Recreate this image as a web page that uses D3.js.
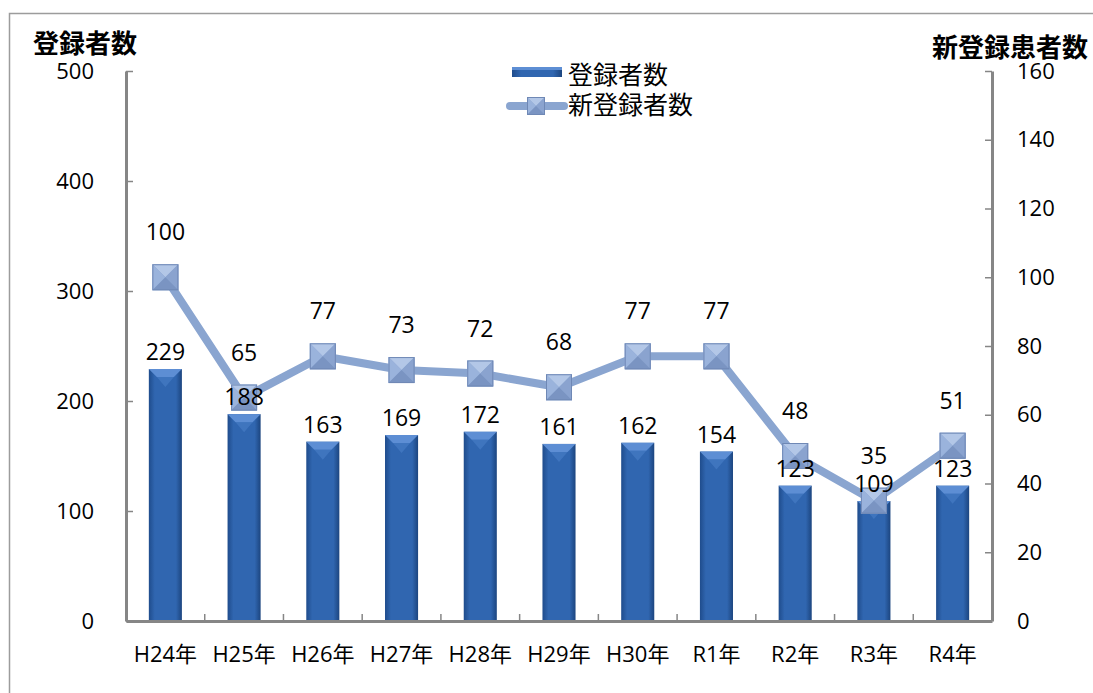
<!DOCTYPE html>
<html lang="ja">
<head>
<meta charset="utf-8">
<title>登録者数・新登録者数</title>
<script src="https://cdn.jsdelivr.net/npm/d3@7"></script>
<style>
  body { margin: 0; background: #fff; overflow: hidden; }
  svg text { font-family: "Open Sans", "Noto Sans CJK JP", sans-serif; fill: #000; }
  .title { font-family: "Noto Sans CJK JP", sans-serif; font-weight: bold; font-size: 26px; }
  .axis path, .axis line { stroke: #868686; }
  .axis text { font-size: 22px; }
</style>
</head>
<body>
<div id="chart"></div>
<script>
// データ
var years = ["H24年", "H25年", "H26年", "H27年", "H28年", "H29年", "H30年", "R1年", "R2年", "R3年", "R4年"];
var registered = [229, 188, 163, 169, 172, 161, 162, 154, 123, 109, 123];
var newRegistered = [100, 65, 77, 73, 72, 68, 77, 77, 48, 35, 51];
var leftTicks = [0, 100, 200, 300, 400, 500];
var rightTicks = [0, 20, 40, 60, 80, 100, 120, 140, 160];

var width = 1093, height = 693;
var pLeft = 126, pRight = 992, pTop = 71, pBottom = 621;

var svg = d3.select("#chart").append("svg")
    .attr("width", width)
    .attr("height", height);

var defs = svg.append("defs");
var barGrad = defs.append("linearGradient").attr("id", "barGrad")
    .attr("x1", "0%").attr("x2", "100%").attr("y1", "0%").attr("y2", "0%");
barGrad.append("stop").attr("offset", "0%").attr("stop-color", "#1f4c8c");
barGrad.append("stop").attr("offset", "18%").attr("stop-color", "#3066b0");
barGrad.append("stop").attr("offset", "82%").attr("stop-color", "#3066b0");
barGrad.append("stop").attr("offset", "100%").attr("stop-color", "#1c457f");

// 外枠
svg.append("rect")
    .attr("x", 9.5).attr("y", 13.5)
    .attr("width", 1200).attr("height", 800)
    .attr("fill", "none").attr("stroke", "#9c9c9c").attr("stroke-width", 1.5);

var x = d3.scaleBand().domain(years).range([pLeft, pRight]).padding(0);
var y = d3.scaleLinear().domain([0, 500]).range([pBottom, pTop]);
var y2 = d3.scaleLinear().domain([0, 160]).range([pBottom, pTop]);

var barW = x.bandwidth() * 0.42;

// 棒
var bars = svg.append("g").selectAll("g")
    .data(registered)
    .join("g")
    .attr("transform", function(d, i) { return "translate(" + (x(years[i]) + x.bandwidth() / 2 - barW / 2) + ",0)"; });

bars.append("rect")
    .attr("x", 0)
    .attr("y", function(d) { return y(d); })
    .attr("width", barW)
    .attr("height", function(d) { return y(0) - y(d); })
    .attr("fill", "url(#barGrad)");

// 上面の面取り
bars.append("path")
    .attr("d", function(d) {
        var t = y(d), b = 8;
        return "M0," + t + "L" + barW + "," + t + "L" + (barW - b) + "," + (t + b) + "L" + b + "," + (t + b) + "Z";
    })
    .attr("fill", "#5d8ed4");
bars.append("path")
    .attr("d", function(d) {
        var t = y(d), b = 8;
        return "M" + b + "," + (t + b) + "L" + (barW - b) + "," + (t + b) + "L" + (barW / 2) + "," + (t + b + 10) + "Z";
    })
    .attr("fill", "#4a7fc8").attr("opacity", 0.6);

// 軸
var axL = svg.append("g").attr("class", "axis")
    .attr("transform", "translate(" + pLeft + ",0)")
    .call(d3.axisLeft(y).tickValues(leftTicks).tickSizeInner(-7).tickSizeOuter(0).tickPadding(32));
axL.select(".domain").attr("stroke-width", 3);
axL.selectAll("line").attr("stroke-width", 1.5);

var axR = svg.append("g").attr("class", "axis")
    .attr("transform", "translate(" + pRight + ",0)")
    .call(d3.axisRight(y2).tickValues(rightTicks).tickSizeInner(-7).tickSizeOuter(0).tickPadding(25));
axR.select(".domain").attr("stroke-width", 3);
axR.selectAll("line").attr("stroke-width", 1.5);

var axB = svg.append("g").attr("class", "axis")
    .attr("transform", "translate(0," + pBottom + ")")
    .call(d3.axisBottom(x).tickSize(0).tickPadding(25));
axB.select(".domain").attr("stroke-width", 3);

// 区切り目盛
svg.append("g").selectAll("line")
    .data(years.slice(1))
    .join("line")
    .attr("x1", function(d) { return x(d); })
    .attr("x2", function(d) { return x(d); })
    .attr("y1", pBottom).attr("y2", pBottom - 7)
    .attr("stroke", "#868686").attr("stroke-width", 1.5);

// 折れ線
var cx = function(d, i) { return x(years[i]) + x.bandwidth() / 2; };
var line = d3.line()
    .x(function(d, i) { return cx(d, i); })
    .y(function(d) { return y2(d); });

svg.append("path")
    .datum(newRegistered)
    .attr("d", line)
    .attr("fill", "none")
    .attr("stroke", "#8aa5d0")
    .attr("stroke-width", 8)
    .attr("stroke-linejoin", "round");

function marker(g, s) {
    var h = s / 2;
    g.append("rect").attr("x", -h).attr("y", -h).attr("width", s).attr("height", s).attr("fill", "#88a2cf");
    g.append("path").attr("d", "M" + -h + "," + -h + "L" + h + "," + -h + "L0,0Z").attr("fill", "#b3c7e7");
    g.append("path").attr("d", "M" + -h + "," + -h + "L" + -h + "," + h + "L0,0Z").attr("fill", "#9ab3dc");
    g.append("path").attr("d", "M" + h + "," + -h + "L" + h + "," + h + "L0,0Z").attr("fill", "#8aa3cf");
    g.append("path").attr("d", "M" + -h + "," + h + "L" + h + "," + h + "L0,0Z").attr("fill", "#7a94c2");
    g.append("rect").attr("x", -h + 0.5).attr("y", -h + 0.5).attr("width", s - 1).attr("height", s - 1)
        .attr("fill", "none").attr("stroke", "#6f88b5").attr("stroke-width", 1);
}

svg.append("g").selectAll("g")
    .data(newRegistered)
    .join("g")
    .attr("transform", function(d, i) { return "translate(" + cx(d, i) + "," + y2(d) + ")"; })
    .each(function() { marker(d3.select(this), 26); });

// データラベル
svg.append("g").selectAll("text")
    .data(registered)
    .join("text")
    .attr("x", function(d, i) { return cx(d, i); })
    .attr("y", function(d) { return y(d) - 9; })
    .attr("text-anchor", "middle")
    .attr("font-size", 23)
    .text(function(d) { return d; });

svg.append("g").selectAll("text")
    .data(newRegistered)
    .join("text")
    .attr("x", function(d, i) { return cx(d, i); })
    .attr("y", function(d) { return y2(d) - 37; })
    .attr("text-anchor", "middle")
    .attr("font-size", 23)
    .text(function(d) { return d; });

// 軸タイトル
svg.append("text").attr("class", "title")
    .attr("x", 33).attr("y", 53).text("登録者数");
svg.append("text").attr("class", "title")
    .attr("x", 1088).attr("y", 57).attr("text-anchor", "end").text("新登録患者数");

// 凡例
var lg = svg.append("g");
lg.append("rect").attr("x", 512).attr("y", 67).attr("width", 50).attr("height", 10).attr("fill", "url(#barGrad)");
lg.append("rect").attr("x", 512).attr("y", 67).attr("width", 50).attr("height", 3).attr("fill", "#5d8ed4");
lg.append("text").attr("x", 568).attr("y", 84).attr("font-size", 25)
    .style("font-family", "'Noto Sans CJK JP', sans-serif").text("登録者数");
lg.append("line").attr("x1", 510).attr("x2", 564).attr("y1", 106).attr("y2", 106)
    .attr("stroke", "#8aa5d0").attr("stroke-width", 8).attr("stroke-linecap", "round");
marker(lg.append("g").attr("transform", "translate(536,106)"), 18);
lg.append("text").attr("x", 568).attr("y", 114).attr("font-size", 25)
    .style("font-family", "'Noto Sans CJK JP', sans-serif").text("新登録者数");
</script>
</body>
</html>
